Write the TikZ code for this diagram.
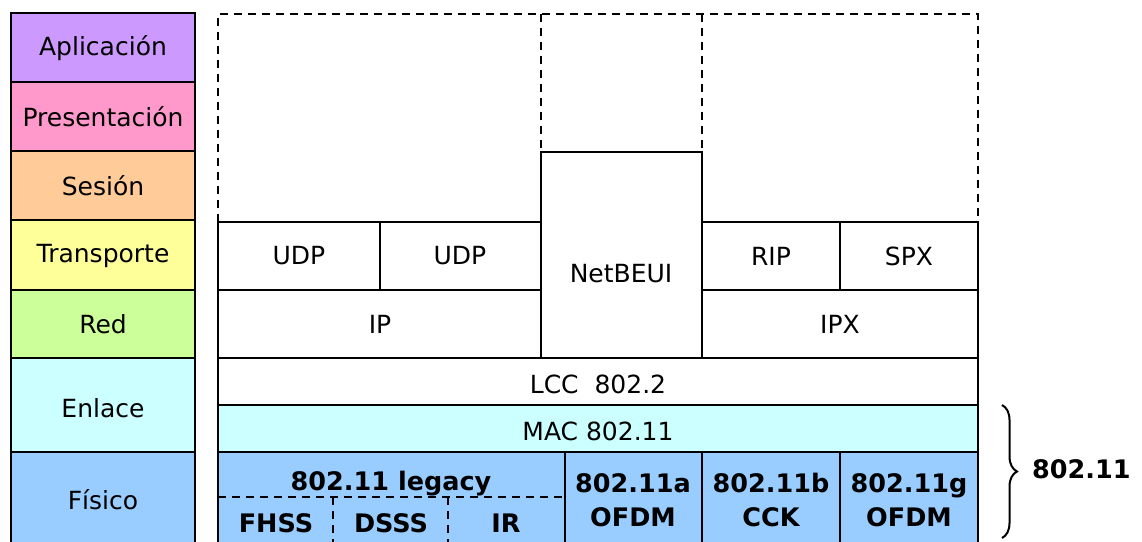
\documentclass[tikz,border=0pt]{standalone}
\usepackage{fontspec}
\setmainfont{DejaVu Sans}
\usetikzlibrary{decorations.pathreplacing}
\definecolor{cApl}{HTML}{CC99FF}
\definecolor{cPre}{HTML}{FF99CC}
\definecolor{cSes}{HTML}{FFCC99}
\definecolor{cTra}{HTML}{FFFF99}
\definecolor{cRed}{HTML}{CCFF99}
\definecolor{cEnl}{HTML}{CCFFFF}
\definecolor{cFis}{HTML}{99CCFF}
\begin{document}
\begin{tikzpicture}[x=1pt,y=-1pt,
  box/.style={draw=black,line width=2.3pt},
  dash box/.style={draw=black,line width=2.3pt,dash pattern=on 8pt off 6pt},
  lbl/.style={font=\fontsize{25}{34}\selectfont,inner sep=0pt,align=center},
  blbl/.style={font=\fontsize{25.5}{34}\selectfont\bfseries,inner sep=0pt,align=center}]
\useasboundingbox (0,0) rectangle (1142,541);
\clip (0,0) rectangle (1142,541);
% left OSI column
\draw[box,fill=cApl] (11,13) rectangle (195,82);
\draw[box,fill=cPre] (11,82) rectangle (195,151);
\draw[box,fill=cSes] (11,151) rectangle (195,220);
\draw[box,fill=cTra] (11,220) rectangle (195,290);
\draw[box,fill=cRed] (11,290) rectangle (195,358);
\draw[box,fill=cEnl] (11,358) rectangle (195,452);
\draw[box,fill=cFis] (11,452) rectangle (195,548);
\node[lbl] (apl) at (103,48) {Aplicación};
\node[lbl] (pre) at (103,117) {Presentación};
\node[lbl] (ses) at (103,186) {Sesión};
\node[lbl] (tra) at (103,256) {Transporte};
\node[lbl] (red) at (103,324) {Red};
\node[lbl] (enl) at (103,408) {Enlace};
\node[lbl] (fis) at (103,500) {Físico};
% dashed upper outline
\draw[dash box] (218,222) -- (218,14) -- (978,14) -- (978,222);
\draw[dash box] (541,14) -- (541,152);
\draw[dash box] (702,14) -- (702,222);
% transport / network stacks
\draw[box] (218,222) rectangle (541,290);
\draw[box] (380,222) -- (380,290);
\draw[box] (218,290) rectangle (541,358);
\draw[box] (702,222) rectangle (978,290);
\draw[box] (840,222) -- (840,290);
\draw[box] (702,290) rectangle (978,358);
\draw[box] (541,152) rectangle (702,358);
\node[lbl] (udp1) at (299,256) {UDP};
\node[lbl] (udp2) at (460,256) {UDP};
\node[lbl] (rip) at (771,256) {RIP};
\node[lbl] (spx) at (909,256) {SPX};
\node[lbl] (ip) at (380,324) {IP};
\node[lbl] (ipx) at (840,324) {IPX};
\node[lbl] (netbeui) at (621,274) {NetBEUI};
% link layer
\draw[box] (218,358) rectangle (978,405);
\draw[box,fill=cEnl] (218,405) rectangle (978,452);
\node[lbl] (llc) at (598,384) {LCC\ \ 802.2};
\node[lbl] (mac) at (598,431) {MAC 802.11};
% physical
\draw[box,fill=cFis] (218,452) rectangle (978,548);
\draw[box] (565,452) -- (565,548);
\draw[box] (702,452) -- (702,548);
\draw[box] (840,452) -- (840,548);
\draw[dash box] (218,497) -- (565,497);
\draw[dash box] (333,497) -- (333,548);
\draw[dash box] (448,497) -- (448,548);
\node[blbl] (legacy) at (391,484) {802.11 legacy};
\node[blbl] (fhss) at (276,523) {FHSS};
\node[blbl] (dsss) at (391,523) {DSSS};
\node[blbl] (ir) at (506,523) {IR};
\node[blbl] (a) at (633,500) {802.11a\\OFDM};
\node[blbl] (b) at (771,500) {802.11b\\CCK};
\node[blbl] (g) at (909,500) {802.11g\\OFDM};
% brace
\coordinate (bt) at (1002,405);
\coordinate (bb) at (1002,538);
\draw[line width=2pt,decorate,decoration={brace,amplitude=15pt}] (bt) -- (bb);
\node[blbl,anchor=west] (std) at (1032,469) {802.11};
\end{tikzpicture}
\end{document}
